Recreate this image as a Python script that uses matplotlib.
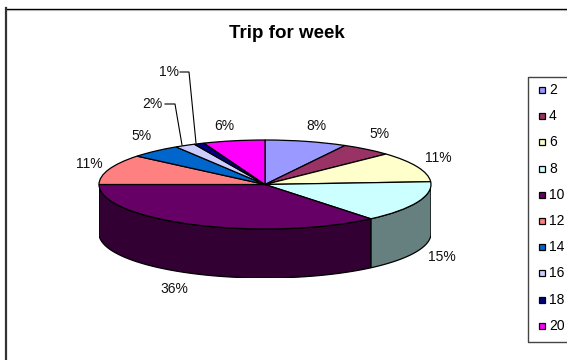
import numpy as np
import matplotlib
matplotlib.use("Agg")
import matplotlib.pyplot as plt
from matplotlib.patches import Rectangle

# ===== data =====
categories = ["2", "4", "6", "8", "10", "12", "14", "16", "18", "20"]
percent = [8, 5, 11, 15, 36, 11, 5, 2, 1, 6]
colors = ["#9999FF", "#993366", "#FFFFCC", "#CCFFFF", "#660066",
          "#FF8080", "#0066CC", "#CCCCFF", "#000080", "#FF00FF"]
side_colors = ["#4C4C80", "#4C1A33", "#808066", "#668080", "#330033",
               "#804040", "#003366", "#666680", "#000040", "#800080"]

W, H = 567, 360
CX, CY = 265, 184.5     # centre of the pie top, pixels
RX, RY = 166, 44.5
DEPTH = 49 / RY

plt.rcParams['font.family'] = ['Liberation Sans', 'DejaVu Sans']

fig = plt.figure(figsize=(W / 100, H / 100), dpi=100, facecolor="white")

# overlay in pixel coordinates for the frame and the text
bg = fig.add_axes([0, 0, 1, 1])
bg.set_xlim(0, W)
bg.set_ylim(H, 0)
bg.axis("off")
# chart frame runs off the right and bottom of the picture
bg.plot([6, W + 5], [9.5, 9.5], color="#DDDDDD", lw=0.9)
bg.plot([6, W + 5], [8.5, 8.5], color="black", lw=1.0)
bg.plot([6, 6], [8, H + 5], color="#333333", lw=1.6)

# pie axes: unit circle squashed to the ellipse
ax = fig.add_axes([(CX - RX) / W, 1 - (CY + RY * (1 + DEPTH)) / H,
                   2 * RX / W, RY * (2 + DEPTH) / H])
ax.patch.set_alpha(0)
wedges, _ = ax.pie(percent, colors=colors, startangle=90, counterclock=False,
                   wedgeprops=dict(edgecolor="black", linewidth=0.9, zorder=5))
ax.set_aspect("auto")
ax.set_xlim(-1, 1)
ax.set_ylim(-1 - DEPTH, 1)
ax.axis("off")

# side wall of the front slices
for w, sc in zip(wedges, side_colors):
    a1, a2 = w.theta1, w.theta2
    lo, hi = max(a1, 180), min(a2, 360)
    if a2 <= 0:
        lo, hi = max(a1 + 360, 180), min(a2 + 360, 360)
    elif a1 < 0:
        lo, hi = max(a1 + 360, 180), 360
    if hi <= lo:
        continue
    t = np.radians(np.linspace(lo, hi, 80))
    xs = np.concatenate([np.cos(t), np.cos(t[::-1])])
    ys = np.concatenate([np.sin(t), np.sin(t[::-1]) - DEPTH])
    ax.fill(xs, ys, facecolor=sc, edgecolor="black", linewidth=0.9, zorder=3)

# percentage labels
label_pos = [(316, 126), (380, 134), (438, 158), (442, 257), (174, 289),
             (89, 164), (141, 136), (152, 104), (169, 72), (224, 126)]
for p, (lx, ly) in zip(percent, label_pos):
    bg.text(lx, ly, "%d%%" % p, fontsize=10, ha="center", va="center", color="#111111")

# leader lines for the small slices
bg.plot([165, 175, 182], [104, 104, 145], color="black", lw=0.8)
bg.plot([180, 189, 196], [72, 72, 143], color="black", lw=0.8)

bg.text(287, 33, "Trip for week", fontsize=13.5, fontweight="bold", ha="center", va="center")

# legend box, also cut by the right edge
bg.plot([W + 5, 527.5, 527.5, W + 5], [77, 77, 342, 342], color="#444444", lw=1.0)
legend_y = 90 + np.arange(len(categories)) * 26.2
for name, c, ly in zip(categories, colors, legend_y):
    bg.add_patch(Rectangle((538.5, ly - 3), 6, 6, fc=c, ec="black", lw=0.9))
    bg.text(549, ly, name, fontsize=10, ha="left", va="center")

fig.savefig("out.png", dpi=100)
